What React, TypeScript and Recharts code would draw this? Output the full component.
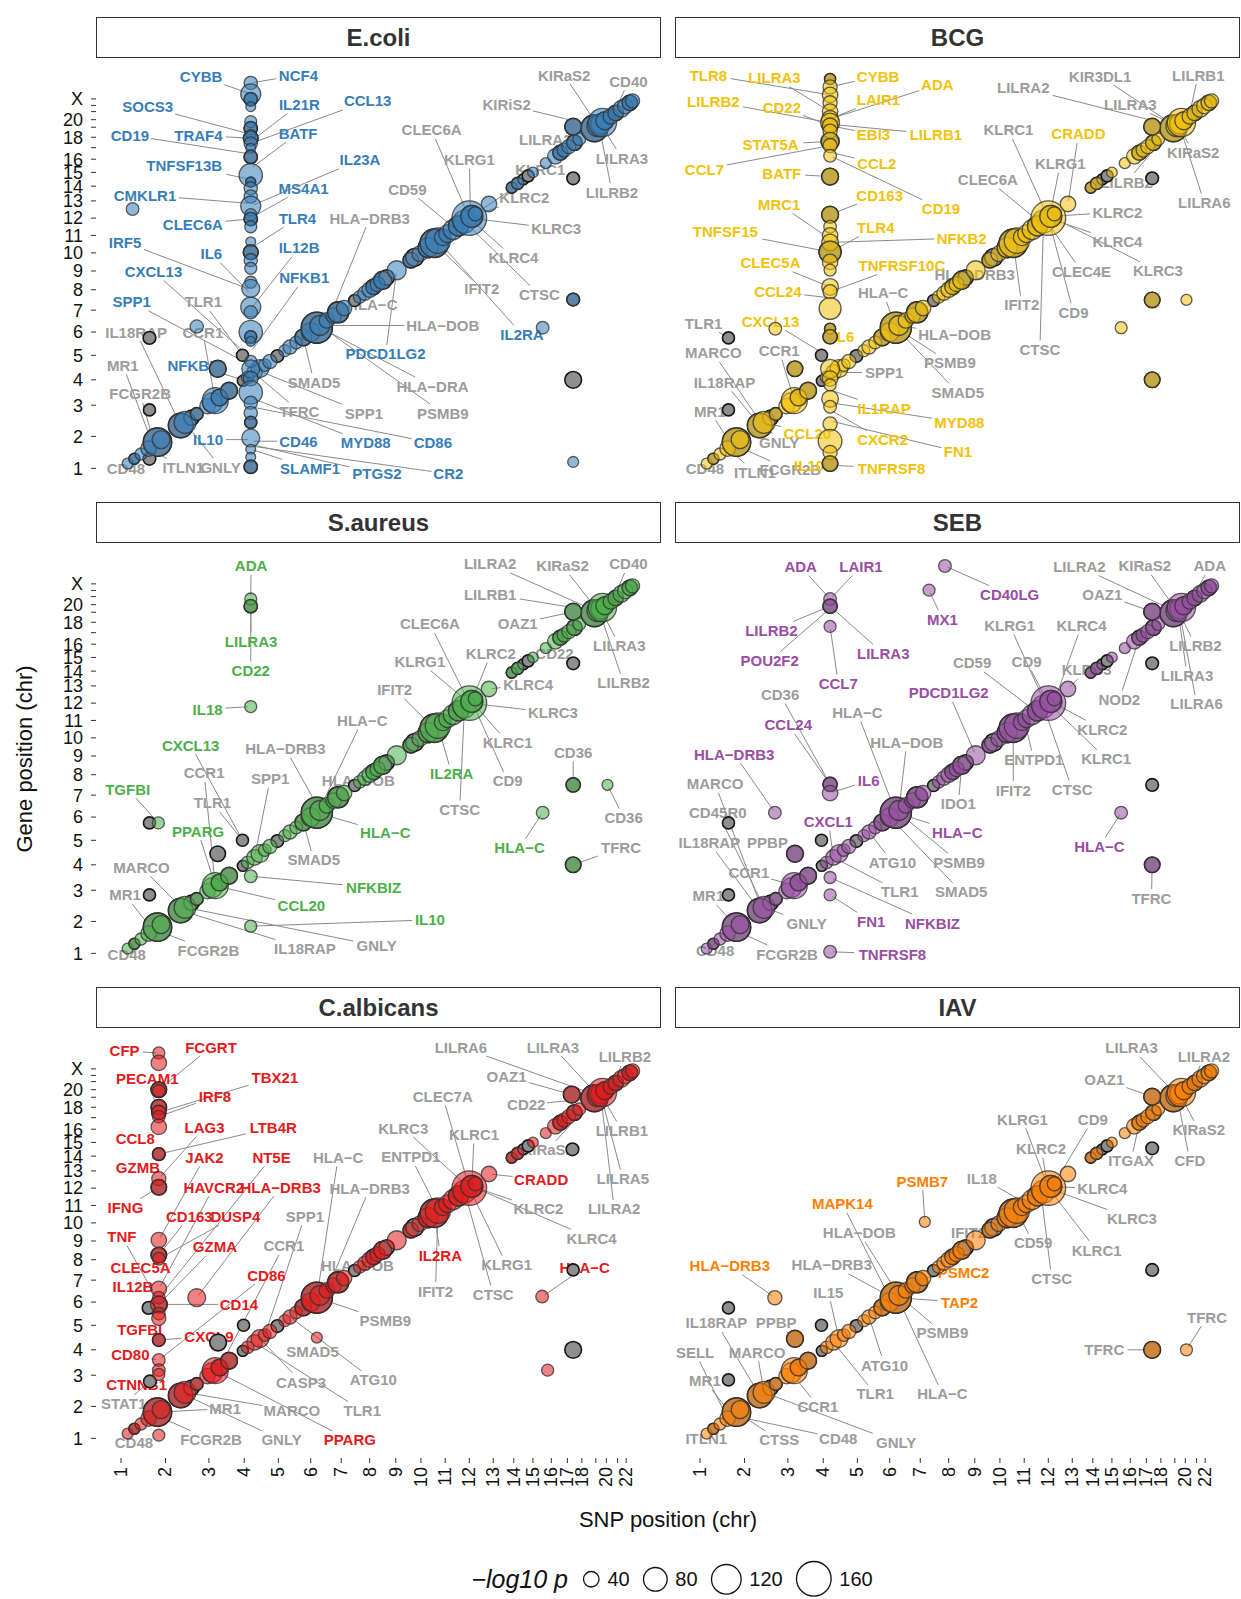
import React from 'react'
import { ScatterChart, Scatter, XAxis, YAxis, CartesianGrid, ReferenceLine } from 'recharts'

// chromosome layout (hg19, Mb)
const CHROMS = ['1', '2', '3', '4', '5', '6', '7', '8', '9', '10', '11', '12', '13', '14', '15', '16', '17', '18', '19', '20', '21', '22', 'X']
const CHROM_LEN = [249, 243, 198, 191, 181, 171, 159, 146, 141, 136, 135, 134, 115, 107, 103, 90, 81, 78, 59, 63, 48, 51, 155]
const HIDDEN_Y_LABELS = ['17', '19', '21', '22']
const HIDDEN_X_LABELS = ['19', '21']
const SIZE_BREAKS = [40, 80, 120, 160]

// shared cis-eQTL diagonal: [chr position, -log10 p, kind] (g = baseline only, c = stimulated only, d = both)
const CIS = [
  [1.15, 25, 'c'], [1.3, 25, 'd'], [1.45, 28, 'c'], [1.62, 40, 'c'], [1.72, 45, 'g'], [1.82, 110, 'd'], [1.9, 50, 'c'],
  [2.35, 85, 'd'], [2.45, 70, 'c'], [2.6, 40, 'g'], [2.72, 30, 'd'], [2.97, 40, 'c'], [3.1, 60, 'c'], [3.18, 95, 'c'],
  [3.3, 45, 'd'], [3.57, 45, 'd'], [3.96, 25, 'g'], [4.1, 30, 'c'], [4.3, 40, 'c'], [4.46, 50, 'c'], [4.6, 30, 'c'],
  [4.75, 35, 'c'], [4.97, 30, 'g'], [5.2, 28, 'c'], [5.36, 35, 'c'], [5.55, 30, 'c'], [5.77, 45, 'd'], [6.0, 55, 'c'],
  [6.2, 130, 'd'], [6.3, 60, 'c'], [6.53, 40, 'c'], [6.75, 40, 'c'], [6.9, 65, 'd'], [7.1, 40, 'c'], [7.47, 28, 'g'],
  [7.65, 30, 'c'], [7.83, 35, 'c'], [8.0, 40, 'c'], [8.15, 40, 'd'], [8.3, 38, 'c'], [8.5, 50, 'd'], [8.65, 40, 'g'],
  [9.04, 55, 'c'], [9.6, 40, 'd'], [9.75, 50, 'g'], [9.95, 40, 'c'], [10.3, 60, 'd'], [10.55, 110, 'd'], [10.7, 90, 'c'],
  [10.9, 45, 'c'], [11.1, 50, 'c'], [11.33, 60, 'c'], [11.55, 60, 'd'], [11.8, 75, 'c'], [12.0, 160, 'c'], [12.1, 70, 'd'],
  [12.25, 35, 'c'], [12.82, 40, 'c'], [13.9, 25, 'd'], [14.2, 28, 'd'], [14.5, 25, 'g'], [14.75, 28, 'g'], [15.0, 24, 'c'],
  [15.7, 25, 'c'], [16.25, 40, 'c'], [16.56, 38, 'd'], [16.8, 35, 'c'], [17.1, 35, 'c'], [17.48, 40, 'd'], [17.82, 30, 'c'],
  [18.9, 100, 'd'], [19.2, 70, 'c'], [19.45, 60, 'c'], [19.63, 110, 'c'], [19.85, 50, 'd'], [20.4, 40, 'c'], [20.83, 40, 'd'],
  [21.44, 45, 'c'], [21.9, 40, 'c'], [22.4, 40, 'd'], [22.7, 35, 'c'],
]

// trans hotspot columns: [gene chr position, -log10 p, kind]
const ECOLI_COL_X = 4.19
const ECOLI_COL = [
  [23.8, 32, 'c'], [23.25, 60, 'c'], [22.95, 32, 'd'], [21.8, 22, 'c'], [19.74, 28, 'c'], [18.9, 32, 'd'], [18.3, 22, 'c'],
  [17.9, 37, 'd'], [17.4, 32, 'c'], [16.95, 22, 'c'], [16.2, 32, 'd'], [14.8, 78, 'c'], [14.3, 22, 'd'], [13.85, 32, 'c'],
  [13.3, 32, 'c'], [12.7, 60, 'c'], [12.2, 28, 'c'], [11.95, 32, 'd'], [11.5, 28, 'c'], [10.64, 22, 'c'], [10.04, 37, 'd'],
  [9.6, 32, 'c'], [9.15, 28, 'c'], [8.4, 28, 'c'], [8.07, 50, 'c'], [7.15, 60, 'c'], [6.9, 32, 'c'], [6.0, 78, 'c'],
  [5.8, 28, 'd'], [5.6, 22, 'c'], [4.75, 28, 'c'], [4.45, 50, 'c'], [4.05, 37, 'c'], [3.5, 78, 'c'], [3.1, 32, 'c'],
  [2.75, 32, 'c'], [2.45, 28, 'd'], [1.95, 50, 'c'], [1.6, 22, 'c'], [1.35, 22, 'c'], [1.05, 32, 'd'],
]
const BCG_COL_X = 4.2
const BCG_COL = [
  [24.0, 25, 'd'], [23.6, 35, 'c'], [23.2, 40, 'c'], [22.4, 35, 'c'], [21.0, 40, 'c'], [20.1, 45, 'c'], [19.6, 55, 'c'],
  [19.2, 40, 'd'], [18.6, 35, 'c'], [17.6, 50, 'd'], [17.2, 35, 'c'], [16.3, 30, 'c'], [14.7, 45, 'd'], [12.2, 45, 'd'],
  [11.5, 30, 'c'], [11.0, 40, 'c'], [10.6, 45, 'c'], [10.05, 70, 'd'], [9.5, 40, 'c'], [9.05, 28, 'c'], [8.15, 45, 'c'],
  [7.9, 35, 'c'], [7.08, 70, 'c'], [6.15, 25, 'd'], [5.8, 35, 'd'], [4.45, 55, 'c'], [4.05, 40, 'c'], [3.8, 28, 'c'],
  [3.25, 45, 'c'], [2.95, 30, 'c'], [2.4, 35, 'c'], [1.85, 80, 'c'], [1.5, 35, 'c'], [1.15, 40, 'd'],
]
const CALB_COL_X = 1.85
const CALB_COL = [
  [23.8, 28, 'c'], [23.3, 40, 'c'], [20.0, 40, 'd'], [19.85, 30, 'c'], [18.0, 40, 'd'], [17.5, 35, 'd'], [17.1, 30, 'c'],
  [16.2, 40, 'c'], [14.15, 30, 'd'], [12.55, 35, 'c'], [12.05, 40, 'd'], [9.05, 40, 'c'], [8.25, 40, 'd'], [8.05, 30, 'c'],
  [6.6, 40, 'c'], [6.2, 30, 'c'], [5.9, 45, 'd'], [5.5, 30, 'c'], [5.3, 35, 'c'], [4.4, 30, 'd'], [3.6, 30, 'c'],
  [3.2, 30, 'c'], [3.03, 28, 'c'], [1.1, 28, 'c'],
]

// other trans points: [snp chr position, gene chr position, -log10 p, kind]
const ECOLI_TRANS = [
  [1.26, 12.53, 30, 'c'], [2.72, 6.25, 32, 'c'], [1.64, 5.75, 30, 'g'], [3.25, 4.45, 45, 'd'], [3.95, 5.0, 28, 'g'],
  [1.64, 2.85, 28, 'g'], [1.64, 1.3, 30, 'g'], [17.4, 19.07, 45, 'd'], [17.4, 14.57, 30, 'g'], [17.4, 7.52, 30, 'd'],
  [15.53, 6.2, 30, 'c'], [17.4, 4.0, 45, 'g'], [17.4, 1.2, 25, 'c'],
]
const BCG_TRANS = [
  [1.64, 5.75, 28, 'g'], [2.71, 6.15, 30, 'c'], [3.95, 5.0, 28, 'g'], [3.2, 4.45, 40, 'd'], [1.64, 2.85, 28, 'g'],
  [17.4, 19.07, 45, 'd'], [17.4, 14.57, 30, 'g'], [17.4, 7.5, 40, 'd'], [20.1, 7.5, 25, 'c'], [15.5, 6.2, 28, 'c'],
  [17.4, 4.0, 40, 'd'],
]
const SAUREUS_TRANS = [
  [4.19, 20.7, 28, 'c'], [4.19, 19.8, 32, 'd'], [4.19, 11.8, 28, 'c'], [1.64, 5.75, 28, 'g'], [1.84, 5.75, 28, 'c'],
  [3.95, 5.0, 28, 'g'], [3.25, 4.45, 40, 'g'], [4.19, 3.55, 30, 'c'], [4.19, 1.85, 28, 'c'], [1.64, 2.85, 28, 'g'],
  [17.4, 19.07, 45, 'd'], [17.4, 14.57, 30, 'g'], [17.4, 7.5, 35, 'd'], [20.1, 7.5, 25, 'c'], [15.53, 6.2, 30, 'c'],
  [17.4, 4.0, 40, 'd'],
]
const SEB_TRANS = [
  [4.2, 20.7, 30, 'c'], [4.2, 19.8, 35, 'd'], [4.2, 17.6, 28, 'c'], [7.87, 23.9, 30, 'c'], [7.31, 22.05, 28, 'c'],
  [2.7, 6.2, 30, 'c'], [4.2, 7.53, 35, 'd'], [4.2, 7.1, 40, 'c'], [1.64, 5.75, 28, 'g'], [3.95, 5.0, 28, 'g'],
  [3.2, 4.45, 45, 'd'], [4.2, 3.5, 28, 'c'], [4.2, 2.85, 28, 'c'], [4.2, 1.05, 30, 'c'], [1.64, 2.85, 28, 'g'],
  [17.4, 19.07, 45, 'd'], [17.4, 14.57, 30, 'g'], [17.4, 7.5, 30, 'g'], [15.5, 6.2, 30, 'c'], [17.4, 4.0, 40, 'd'],
]
const CALB_TRANS = [
  [1.62, 5.75, 30, 'g'], [1.65, 2.8, 30, 'g'], [2.72, 6.2, 50, 'c'], [3.98, 5.0, 28, 'g'], [3.26, 4.3, 45, 'g'],
  [6.2, 4.5, 25, 'c'], [17.3, 19.35, 45, 'd'], [17.35, 14.5, 30, 'g'], [17.4, 7.5, 28, 'g'], [15.5, 6.25, 30, 'c'],
  [17.4, 4.0, 45, 'g'], [15.8, 3.2, 28, 'c'],
]
const IAV_TRANS = [
  [1.64, 5.75, 28, 'g'], [2.7, 6.2, 35, 'c'], [3.95, 5.0, 28, 'g'], [3.2, 4.45, 45, 'd'], [1.64, 2.85, 28, 'g'],
  [7.16, 10.06, 25, 'c'], [17.4, 19.07, 45, 'd'], [17.4, 14.57, 30, 'g'], [17.4, 7.5, 30, 'g'], [17.4, 4.0, 45, 'd'],
  [20.1, 4.0, 28, 'c'],
]

// gene labels: [gene, label x, label y, point x, point y, kind] (c = stimulation colour, g = grey)
const ECOLI_LABELS = [
  ['CYBB', 2.82, 24.12, 4.19, 23.25, 'c'], ['NCF4', 5.62, 24.2, 4.19, 23.8, 'c'], ['SOCS3', 1.6, 21.8, 4.19, 18.3, 'c'],
  ['IL21R', 5.65, 22.15, 4.19, 17.6, 'c'], ['CCL13', 7.93, 22.7, 4.19, 17.4, 'c'], ['CD19', 1.2, 18.2, 4.19, 16.45, 'c'],
  ['TRAF4', 2.76, 18.2, 4.19, 17.9, 'c'], ['BATF', 5.61, 18.4, 4.19, 15.3, 'c'], ['TNFSF13B', 2.43, 15.5, 4.19, 14.5, 'c'],
  ['IL23A', 7.66, 15.95, 4.19, 12.7, 'c'], ['CMKLR1', 1.54, 13.4, 4.19, 12.85, 'c'], ['MS4A1', 5.78, 13.85, 4.19, 12.0, 'c'],
  ['CLEC6A', 2.63, 11.65, 4.19, 11.95, 'c'], ['TLR4', 5.59, 12.0, 4.19, 10.25, 'c'], ['HLA−DRB3', 8.0, 12.0, 6.6, 6.6, 'g'],
  ['IRF5', 1.09, 10.6, 4.19, 8.0, 'c'], ['IL6', 3.07, 9.96, 4.19, 7.8, 'c'], ['IL12B', 5.64, 10.3, 4.19, 7.05, 'c'],
  ['CXCL13', 1.73, 8.97, 4.19, 4.9, 'c'], ['NFKB1', 5.8, 8.63, 4.19, 5.15, 'c'], ['SPP1', 1.24, 7.4, 4.19, 4.6, 'c'],
  ['TLR1', 2.87, 7.4, 3.95, 5.0, 'g'], ['IL18RAP', 1.34, 6.0, 2.35, 2.35, 'g'], ['CCR1', 2.86, 6.0, 3.18, 3.18, 'g'],
  ['MR1', 1.04, 4.6, 1.72, 1.72, 'g'], ['NFKBIZ', 2.68, 4.6, 4.19, 3.9, 'c'], ['FCGR2B', 1.43, 3.45, 1.75, 1.75, 'g'],
  ['SMAD5', 6.11, 3.9, 5.77, 5.77, 'g'], ['TFRC', 5.65, 2.8, 4.19, 4.4, 'g'], ['SPP1', 7.8, 2.75, 4.19, 4.5, 'g'],
  ['IL10', 2.98, 1.9, 4.19, 1.9, 'c'], ['CD46', 5.62, 1.85, 4.19, 1.85, 'c'], ['MYD88', 7.86, 1.8, 4.19, 3.3, 'c'],
  ['CD86', 10.49, 1.8, 4.19, 2.95, 'c'], ['SLAMF1', 5.98, 1.0, 4.19, 1.6, 'c'], ['PTGS2', 8.28, 0.85, 4.19, 1.75, 'c'],
  ['CR2', 11.13, 0.83, 4.19, 1.7, 'c'], ['CD48', 1.11, 1.0, 1.15, 1.15, 'g'], ['ITLN1', 2.41, 1.03, 1.62, 1.62, 'g'],
  ['GNLY', 3.33, 1.03, 2.45, 2.45, 'g'], ['PDCD1LG2', 8.61, 5.06, 9.04, 9.04, 'c'], ['HLA−C', 8.1, 7.3, 6.2, 6.2, 'g'],
  ['HLA−DOB', 10.9, 6.3, 6.3, 6.3, 'g'], ['HLA−DRA', 10.48, 3.75, 6.25, 6.25, 'g'], ['PSMB9', 10.9, 2.75, 6.3, 6.3, 'g'],
  ['CLEC6A', 10.44, 18.73, 12.0, 12.0, 'g'], ['KLRG1', 12.0, 15.95, 12.05, 12.05, 'g'], ['CD59', 9.46, 13.8, 11.4, 11.4, 'g'],
  ['KLRC1', 15.4, 15.2, 12.1, 12.1, 'g'], ['KLRC2', 14.55, 13.2, 12.1, 12.1, 'g'], ['KLRC3', 16.3, 11.4, 12.0, 12.0, 'g'],
  ['KLRC4', 13.98, 9.75, 12.0, 12.0, 'g'], ['IFIT2', 12.52, 8.05, 10.55, 10.55, 'g'], ['CTSC', 15.35, 7.75, 11.8, 11.8, 'g'],
  ['IL2RA', 14.43, 5.9, 10.7, 10.7, 'c'], ['KIRaS2', 16.8, 24.2, 19.2, 19.2, 'g'], ['CD40', 22.25, 23.87, 20.6, 20.6, 'g'],
  ['KIRiS2', 13.65, 22.15, 19.1, 19.1, 'g'], ['LILRA2', 15.67, 17.8, 19.1, 19.1, 'g'], ['LILRA3', 21.5, 16.1, 19.45, 19.45, 'g'],
  ['LILRB2', 20.5, 13.6, 19.3, 19.3, 'g'],
]
const BCG_LABELS = [
  ['TLR8', 1.19, 24.2, 4.2, 23.2, 'c'], ['LILRA3', 2.69, 24.07, 4.2, 21.0, 'c'], ['CYBB', 5.64, 24.15, 4.2, 23.6, 'c'],
  ['ADA', 7.6, 23.7, 4.2, 20.1, 'c'], ['LILRB2', 1.3, 22.6, 4.2, 19.6, 'c'], ['CD22', 2.86, 21.7, 4.2, 19.2, 'c'],
  ['LAIR1', 5.65, 22.9, 4.2, 20.1, 'c'], ['EBI3', 5.5, 18.3, 4.2, 19.2, 'c'], ['LILRB1', 7.55, 18.3, 4.2, 19.4, 'c'],
  ['STAT5A', 2.6, 17.3, 4.2, 17.6, 'c'], ['CCL7', 1.1, 15.25, 4.2, 17.2, 'c'], ['CCL2', 5.6, 15.7, 4.2, 16.6, 'c'],
  ['BATF', 2.86, 14.9, 4.2, 14.7, 'c'], ['CD19', 7.73, 12.55, 4.2, 16.3, 'c'], ['CD163', 5.69, 13.4, 4.2, 12.2, 'c'],
  ['MRC1', 2.8, 12.8, 4.2, 10.8, 'c'], ['TLR4', 5.57, 11.45, 4.2, 10.05, 'c'], ['TNFSF15', 1.57, 11.2, 4.2, 10.05, 'c'],
  ['NFKB2', 8.5, 10.85, 4.2, 10.6, 'c'], ['CLEC5A', 2.6, 9.45, 4.2, 8.15, 'c'], ['TNFRSF10C', 6.4, 9.3, 4.2, 7.9, 'c'],
  ['CCL24', 2.77, 7.9, 4.2, 7.6, 'c'], ['HLA−C', 5.8, 7.85, 6.2, 6.2, 'g'], ['CXCL13', 2.6, 6.5, 4.2, 4.9, 'c'],
  ['IL6', 4.59, 5.8, 4.2, 6.0, 'c'], ['TLR1', 1.08, 6.4, 1.64, 5.75, 'g'], ['HLA−DOB', 8.23, 5.9, 6.3, 6.3, 'g'],
  ['HLA−DRB3', 9.0, 8.8, 6.6, 6.6, 'g'], ['MARCO', 1.3, 5.1, 2.4, 2.4, 'g'], ['CCR1', 2.8, 5.2, 3.18, 3.18, 'g'],
  ['SPP1', 5.83, 4.3, 4.3, 4.3, 'g'], ['PSMB9', 8.05, 4.7, 6.2, 6.2, 'g'], ['IL18RAP', 1.55, 3.9, 2.35, 2.35, 'g'],
  ['SMAD5', 8.35, 3.5, 6.2, 6.2, 'g'], ['MR1', 1.22, 2.8, 1.72, 1.72, 'g'], ['IL1RAP', 5.83, 2.9, 4.2, 3.6, 'c'],
  ['MYD88', 8.41, 2.45, 4.2, 3.1, 'c'], ['CCL20', 3.55, 2.1, 2.45, 2.45, 'c'], ['CXCR2', 5.78, 1.9, 4.2, 2.85, 'c'],
  ['GNLY', 2.8, 1.8, 2.45, 2.45, 'g'], ['FN1', 8.36, 1.52, 4.2, 2.5, 'c'], ['CD48', 1.11, 1.0, 1.15, 1.15, 'g'],
  ['ITLN1', 2.24, 0.88, 1.62, 1.62, 'g'], ['FCGR2B', 3.07, 0.95, 1.75, 1.75, 'g'], ['IL10', 3.6, 1.1, 4.2, 1.15, 'c'],
  ['TNFRSF8', 6.06, 1.0, 4.2, 1.1, 'c'], ['KIR3DL1', 14.38, 24.15, 19.1, 19.1, 'g'], ['LILRB1', 21.2, 24.2, 20.3, 20.3, 'g'],
  ['LILRA2', 10.96, 23.55, 19.1, 19.1, 'g'], ['LILRA3', 16.0, 22.15, 19.2, 19.2, 'g'], ['KLRC1', 10.35, 18.73, 12.0, 12.0, 'g'],
  ['CRADD', 13.3, 18.33, 12.82, 12.82, 'c'], ['KLRG1', 12.5, 15.65, 12.05, 12.05, 'g'], ['CLEC6A', 9.52, 14.5, 11.7, 11.7, 'g'],
  ['KIRaS2', 20.7, 16.6, 19.3, 19.3, 'g'], ['LILRB2', 15.8, 14.3, 18.6, 18.6, 'g'], ['LILRA6', 21.9, 12.9, 19.4, 19.4, 'g'],
  ['KLRC2', 15.3, 12.35, 12.1, 12.1, 'g'], ['KLRC4', 15.3, 10.65, 12.0, 12.0, 'g'], ['KLRC3', 17.8, 9.0, 12.1, 12.1, 'g'],
  ['CLEC4E', 13.45, 8.97, 11.9, 11.9, 'g'], ['IFIT2', 10.9, 7.27, 10.55, 10.55, 'g'], ['CD9', 13.06, 6.9, 12.0, 12.0, 'g'],
  ['CTSC', 11.65, 5.25, 11.8, 11.8, 'g'],
]
const SAUREUS_LABELS = [
  ['ADA', 4.2, 23.9, 4.19, 20.7, 'c'], ['LILRA3', 4.2, 16.25, 4.19, 19.8, 'c'], ['CD22', 4.19, 14.05, 4.19, 19.8, 'c'],
  ['IL18', 2.97, 11.65, 4.19, 11.8, 'c'], ['CXCL13', 2.58, 9.6, 3.95, 5.0, 'c'], ['HLA−DRB3', 5.22, 9.4, 6.3, 6.3, 'g'],
  ['HLA−C', 7.74, 11.0, 6.25, 6.25, 'g'], ['CCR1', 2.89, 8.1, 3.18, 3.18, 'g'], ['SPP1', 4.76, 7.8, 4.3, 4.3, 'g'],
  ['TGFBI', 1.15, 7.3, 1.84, 5.75, 'c'], ['TLR1', 3.1, 6.65, 3.95, 5.0, 'g'], ['PPARG', 2.75, 5.4, 3.18, 3.18, 'c'],
  ['HLA−DOB', 7.6, 7.7, 6.35, 6.35, 'g'], ['HLA−C', 8.6, 5.33, 6.2, 6.2, 'c'], ['SMAD5', 6.1, 4.2, 5.77, 5.77, 'g'],
  ['MARCO', 1.46, 3.9, 2.4, 2.4, 'g'], ['NFKBIZ', 8.15, 3.1, 4.19, 3.55, 'c'], ['MR1', 1.09, 2.85, 1.72, 1.72, 'g'],
  ['CCL20', 5.71, 2.5, 3.18, 3.18, 'c'], ['IL10', 10.37, 2.05, 4.19, 1.85, 'c'], ['GNLY', 8.27, 1.24, 2.45, 2.45, 'g'],
  ['IL18RAP', 5.82, 1.15, 2.35, 2.35, 'g'], ['FCGR2B', 2.99, 1.1, 1.75, 1.75, 'g'], ['CD48', 1.13, 0.95, 1.15, 1.15, 'g'],
  ['LILRA2', 12.87, 24.0, 19.1, 19.1, 'g'], ['KIRaS2', 16.7, 23.9, 19.2, 19.2, 'g'], ['CD40', 22.25, 24.0, 20.6, 20.6, 'g'],
  ['LILRB1', 12.87, 21.4, 19.1, 19.1, 'g'], ['OAZ1', 14.2, 17.85, 17.4, 19.07, 'g'], ['CLEC6A', 10.37, 17.85, 12.0, 12.0, 'g'],
  ['CD22', 16.2, 15.3, 17.48, 17.48, 'g'], ['KLRC2', 12.9, 15.3, 12.1, 12.1, 'g'], ['KLRG1', 9.96, 14.7, 12.0, 12.0, 'g'],
  ['LILRA3', 21.2, 15.9, 19.45, 19.45, 'g'], ['LILRB2', 21.7, 13.2, 19.3, 19.3, 'g'], ['KLRC4', 14.75, 13.1, 12.82, 12.82, 'g'],
  ['IFIT2', 8.96, 12.8, 10.55, 10.55, 'g'], ['KLRC3', 16.1, 11.45, 12.0, 12.0, 'g'], ['KLRC1', 13.7, 9.75, 12.1, 12.1, 'g'],
  ['IL2RA', 11.27, 8.05, 10.7, 10.7, 'c'], ['CD9', 13.7, 7.7, 12.1, 12.1, 'g'], ['CTSC', 11.6, 6.35, 11.8, 11.8, 'g'],
  ['CD36', 17.4, 9.2, 17.4, 7.5, 'g'], ['CD36', 21.7, 5.98, 20.1, 7.5, 'g'], ['HLA−C', 14.3, 4.7, 15.53, 6.2, 'c'],
  ['TFRC', 21.4, 4.7, 17.4, 4.0, 'g'],
]
const SEB_LABELS = [
  ['ADA', 3.36, 23.87, 4.2, 20.7, 'c'], ['LAIR1', 5.11, 23.87, 4.2, 20.7, 'c'], ['CD40LG', 10.4, 21.3, 7.87, 23.9, 'c'],
  ['MX1', 7.78, 18.3, 7.31, 22.05, 'c'], ['LILRB2', 2.62, 17.2, 4.2, 19.8, 'c'], ['POU2F2', 2.58, 14.75, 4.2, 19.5, 'c'],
  ['LILRA3', 5.8, 15.3, 4.2, 19.8, 'c'], ['CCL7', 4.44, 13.15, 4.2, 17.6, 'c'], ['CD36', 2.82, 12.5, 4.2, 7.53, 'g'],
  ['CCL24', 3.01, 10.75, 4.2, 7.53, 'c'], ['HLA−C', 5.0, 11.45, 6.2, 6.2, 'g'], ['PDCD1LG2', 8.0, 12.6, 9.04, 9.04, 'c'],
  ['HLA−DOB', 6.56, 9.75, 6.3, 6.3, 'g'], ['HLA−DRB3', 1.77, 9.1, 2.7, 6.2, 'c'], ['IL6', 5.35, 7.7, 4.2, 7.1, 'c'],
  ['MARCO', 1.34, 7.55, 2.4, 2.4, 'g'], ['IDO1', 8.37, 6.6, 8.5, 8.5, 'g'], ['CD45R0', 1.4, 6.2, 2.45, 2.45, 'g'],
  ['CXCL1', 4.15, 5.8, 4.3, 4.3, 'c'], ['HLA−C', 8.33, 5.35, 6.2, 6.2, 'c'], ['IL18RAP', 1.21, 4.9, 2.35, 2.35, 'g'],
  ['PPBP', 2.53, 4.9, 3.2, 4.45, 'g'], ['ATG10', 6.09, 4.1, 5.36, 5.36, 'g'], ['PSMB9', 8.4, 4.1, 6.25, 6.25, 'g'],
  ['CCR1', 2.1, 3.7, 3.18, 3.18, 'g'], ['TLR1', 6.33, 2.95, 4.3, 4.3, 'g'], ['SMAD5', 8.48, 2.95, 6.0, 6.0, 'g'],
  ['MR1', 1.19, 2.82, 1.82, 1.82, 'g'], ['GNLY', 3.53, 1.95, 2.45, 2.45, 'g'], ['FN1', 5.43, 2.0, 4.2, 2.85, 'c'],
  ['NFKBIZ', 7.43, 1.95, 4.2, 3.5, 'c'], ['CD48', 1.34, 1.1, 1.15, 1.15, 'g'], ['FCGR2B', 2.98, 0.98, 1.75, 1.75, 'g'],
  ['TNFRSF8', 6.09, 0.98, 4.2, 1.05, 'c'], ['LILRA2', 13.35, 23.87, 19.1, 19.1, 'g'], ['KIRaS2', 16.9, 23.9, 19.2, 19.2, 'g'],
  ['ADA', 22.5, 23.9, 20.6, 20.6, 'g'], ['OAZ1', 14.5, 21.4, 17.4, 19.07, 'g'], ['KLRG1', 10.4, 17.7, 11.9, 11.9, 'g'],
  ['KLRC4', 13.45, 17.7, 12.3, 12.3, 'g'], ['CD9', 11.1, 14.7, 12.0, 12.0, 'g'], ['CD59', 8.9, 14.6, 11.5, 11.5, 'g'],
  ['KLRC3', 13.7, 14.1, 12.82, 12.82, 'g'], ['NOD2', 15.4, 12.2, 16.56, 16.56, 'g'], ['LILRB2', 20.9, 15.9, 19.3, 19.3, 'g'],
  ['LILRA3', 20.15, 13.7, 19.3, 19.3, 'g'], ['LILRA6', 21.0, 11.95, 19.4, 19.4, 'g'], ['KLRC2', 14.5, 10.5, 12.1, 12.1, 'g'],
  ['ENTPD1', 11.4, 8.8, 11.0, 11.0, 'g'], ['KLRC1', 14.7, 8.85, 12.0, 12.0, 'g'], ['IFIT2', 10.55, 7.25, 10.55, 10.55, 'g'],
  ['CTSC', 13.0, 7.28, 11.8, 11.8, 'g'], ['HLA−C', 14.35, 4.75, 15.5, 6.2, 'c'], ['TFRC', 17.35, 2.75, 17.4, 4.0, 'g'],
]
const CALB_LABELS = [
  ['CFP', 1.08, 23.9, 1.85, 23.8, 'c'], ['FCGRT', 3.06, 24.1, 1.85, 20.0, 'c'], ['PECAM1', 1.59, 21.45, 1.85, 17.5, 'c'],
  ['TBX21', 4.9, 21.7, 1.85, 17.5, 'c'], ['IRF8', 3.17, 19.1, 1.85, 17.1, 'c'], ['CCL8', 1.32, 15.3, 1.85, 16.2, 'c'],
  ['LAG3', 2.9, 16.15, 1.85, 12.55, 'c'], ['LTB4R', 4.85, 16.15, 1.85, 14.15, 'c'], ['GZMB', 1.38, 13.2, 1.85, 14.15, 'c'],
  ['JAK2', 2.9, 13.93, 1.85, 9.05, 'c'], ['NT5E', 4.8, 13.93, 1.85, 6.2, 'c'], ['IFNG', 1.1, 10.87, 1.85, 12.05, 'c'],
  ['HAVCR2', 3.14, 12.06, 1.85, 6.6, 'c'], ['HLA−DRB3', 5.07, 12.06, 2.72, 6.2, 'c'], ['CD163', 2.55, 10.38, 1.85, 8.25, 'c'],
  ['DUSP4', 3.75, 10.38, 1.85, 8.05, 'c'], ['SPP1', 5.82, 10.38, 4.6, 4.6, 'g'], ['TNF', 1.02, 9.25, 1.85, 6.0, 'c'],
  ['GZMA', 3.17, 8.7, 1.85, 5.9, 'c'], ['CCR1', 5.17, 8.75, 3.3, 3.3, 'g'], ['CLEC5A', 1.44, 7.63, 1.85, 8.05, 'c'],
  ['HLA−DOB', 7.57, 7.7, 6.3, 6.3, 'g'], ['CD86', 4.65, 7.25, 1.85, 3.6, 'c'], ['IL12B', 1.27, 6.73, 1.85, 6.2, 'c'],
  ['CD14', 3.85, 5.9, 1.85, 5.9, 'c'], ['PSMB9', 8.6, 5.2, 6.2, 6.2, 'g'], ['TGFBI', 1.42, 4.82, 1.85, 5.3, 'c'],
  ['CXCL9', 3.0, 4.56, 1.85, 4.4, 'c'], ['SMAD5', 6.06, 3.95, 6.2, 4.5, 'g'], ['CD80', 1.21, 3.8, 1.85, 3.6, 'c'],
  ['CTNNB1', 1.35, 2.7, 1.85, 3.03, 'c'], ['CASP3', 5.7, 2.78, 4.46, 4.46, 'g'], ['ATG10', 8.14, 2.85, 5.36, 5.36, 'g'],
  ['STAT1', 1.06, 2.08, 1.65, 2.8, 'g'], ['MR1', 3.46, 1.93, 1.82, 1.82, 'g'], ['MARCO', 5.42, 1.87, 2.45, 2.45, 'g'],
  ['TLR1', 7.74, 1.87, 4.3, 4.3, 'g'], ['CD48', 1.29, 0.87, 1.15, 1.15, 'g'], ['FCGR2B', 3.06, 0.95, 1.75, 1.75, 'g'],
  ['GNLY', 5.1, 0.95, 2.4, 2.4, 'g'], ['PPARG', 7.3, 0.95, 3.18, 3.18, 'c'], ['HLA−C', 6.9, 13.93, 6.2, 6.2, 'g'],
  ['HLA−DRB3', 8.0, 12.0, 6.53, 6.53, 'g'], ['LILRA6', 11.65, 24.1, 19.2, 19.2, 'g'], ['LILRA3', 16.1, 24.1, 19.2, 19.2, 'g'],
  ['LILRB2', 21.85, 23.6, 20.6, 20.6, 'g'], ['OAZ1', 13.65, 21.85, 17.3, 19.35, 'g'], ['CD22', 14.65, 18.25, 18.9, 18.9, 'g'],
  ['CLEC7A', 10.9, 19.1, 12.0, 12.0, 'g'], ['LILRB1', 21.5, 15.9, 19.45, 19.45, 'g'], ['KLRC3', 9.3, 16.1, 12.0, 12.0, 'g'],
  ['KLRC1', 12.2, 15.6, 12.1, 12.1, 'g'], ['KIRaS2', 15.8, 14.45, 18.9, 18.9, 'g'], ['ENTPD1', 9.6, 13.95, 10.7, 10.7, 'g'],
  ['CRADD', 15.45, 12.5, 12.82, 12.82, 'c'], ['LILRA5', 21.6, 12.55, 19.45, 19.45, 'g'], ['KLRC2', 15.3, 10.8, 12.1, 12.1, 'g'],
  ['LILRA2', 20.7, 10.8, 19.45, 19.45, 'g'], ['KLRC4', 18.7, 9.15, 12.1, 12.1, 'g'], ['IL2RA', 10.8, 8.25, 10.55, 10.55, 'c'],
  ['KLRG1', 13.65, 7.75, 12.0, 12.0, 'g'], ['HLA−C', 18.2, 7.62, 15.5, 6.25, 'c'], ['IFIT2', 10.6, 6.5, 10.7, 10.7, 'g'],
  ['CTSC', 13.0, 6.35, 11.8, 11.8, 'g'],
]
const IAV_LABELS = [
  ['PSMB7', 7.07, 12.4, 7.16, 10.06, 'c'], ['IL18', 9.28, 12.58, 11.1, 11.1, 'g'], ['MAPK14', 4.56, 11.1, 6.05, 6.05, 'c'],
  ['HLA−DOB', 5.06, 9.45, 6.3, 6.3, 'g'], ['IFIT2', 8.76, 9.45, 9.6, 9.6, 'g'], ['HLA−DRB3', 1.67, 7.7, 2.7, 6.2, 'c'],
  ['HLA−DRB3', 4.25, 7.75, 6.15, 6.15, 'g'], ['PSMC2', 8.57, 7.35, 7.1, 7.1, 'c'], ['TAP2', 8.42, 6.0, 6.2, 6.2, 'c'],
  ['IL15', 4.15, 6.45, 4.46, 4.46, 'g'], ['IL18RAP', 1.37, 5.1, 2.35, 2.35, 'g'], ['PPBP', 2.73, 5.1, 3.2, 4.45, 'g'],
  ['PSMB9', 7.78, 4.7, 6.3, 6.3, 'g'], ['SELL', 0.89, 3.9, 1.62, 1.62, 'g'], ['MARCO', 2.29, 3.9, 2.45, 2.45, 'g'],
  ['ATG10', 5.84, 3.4, 5.36, 5.36, 'g'], ['MR1', 1.11, 2.82, 1.72, 1.72, 'g'], ['TLR1', 5.55, 2.4, 4.3, 4.3, 'g'],
  ['HLA−C', 7.78, 2.4, 6.25, 6.25, 'g'], ['CCR1', 3.85, 2.0, 3.1, 3.1, 'g'], ['ITLN1', 1.14, 1.0, 1.15, 1.15, 'g'],
  ['CTSS', 2.8, 0.95, 1.82, 1.82, 'g'], ['CD48', 4.44, 1.0, 1.72, 1.72, 'g'], ['GNLY', 6.21, 0.88, 2.45, 2.45, 'g'],
  ['LILRA3', 16.08, 24.06, 19.2, 19.2, 'g'], ['LILRA2', 21.85, 23.6, 20.6, 20.6, 'g'], ['OAZ1', 14.6, 21.3, 17.4, 19.07, 'g'],
  ['KLRG1', 10.93, 16.85, 12.0, 12.0, 'g'], ['CD9', 14.0, 16.85, 12.25, 12.25, 'g'], ['KLRC2', 11.7, 14.55, 12.0, 12.0, 'g'],
  ['KIRaS2', 21.25, 15.95, 19.45, 19.45, 'g'], ['ITGAX', 16.05, 13.7, 16.56, 16.56, 'g'], ['CFD', 20.4, 13.7, 19.2, 19.2, 'g'],
  ['KLRC4', 14.5, 11.95, 12.1, 12.1, 'g'], ['KLRC3', 16.1, 10.25, 12.0, 12.0, 'g'], ['CD59', 11.37, 8.9, 10.7, 10.7, 'g'],
  ['KLRC1', 14.2, 8.5, 12.0, 12.0, 'g'], ['CTSC', 12.14, 7.08, 11.7, 11.7, 'g'], ['TFRC', 14.6, 4.0, 17.4, 4.0, 'g'],
  ['TFRC', 22.2, 5.35, 20.1, 4.0, 'g'],
]

const FONT = '"Liberation Sans", Arial, Helvetica, sans-serif'
const GREY_TEXT = '#9c9c9c'
const PLOT_W = 565
const PLOT_H = 428
const X_DOMAIN = [-140, 3023]
const Y_DOMAIN = [-153, 3182]
const KX = PLOT_W / (X_DOMAIN[1] - X_DOMAIN[0])
const KY = PLOT_H / (Y_DOMAIN[1] - Y_DOMAIN[0])

const CHROM_START: number[] = []
CHROM_LEN.reduce((acc, len, i) => { CHROM_START[i] = acc; return acc + len }, 0)
const X_TICKS = CHROM_START.slice(0, 22)
const Y_TICKS = CHROM_START.slice()

// chromosome coordinate (e.g. 4.19 = 19% along chr4) -> genome position in Mb
function toGenome(c: number) {
  if (c < 1) return (c - 1) * CHROM_LEN[0]
  const k = Math.min(Math.floor(c), 23)
  return CHROM_START[k - 1] + (c - k) * CHROM_LEN[k - 1]
}

const radius = (p: number) => Math.sqrt(Math.max(16, 2 * p - 20))

function textWidth(s: string, fs: number) {
  let w = 0
  for (const ch of s) {
    if (ch === 'I' || ch === 'i' || ch === 'l') w += 0.28
    else if (ch === 'M') w += 0.83
    else if (/[0-9]/.test(ch)) w += 0.556
    else if (/[A-Z]/.test(ch)) w += 0.71
    else w += 0.58
  }
  return w * fs
}

type Pt = { x: number; y: number; p: number; k: string }
type Lbl = { name: string; x: number; y: number; tx: number; ty: number; k: string }

function buildPoints(colX: number | null, col: any[], trans: any[]): Pt[] {
  const pts: Pt[] = CIS.map(([pos, p, k]: any) => ({ x: toGenome(pos), y: toGenome(pos), p, k }))
  if (colX !== null) col.forEach(([y, p, k]: any) => pts.push({ x: toGenome(colX), y: toGenome(y), p, k }))
  trans.forEach(([x, y, p, k]: any) => pts.push({ x: toGenome(x), y: toGenome(y), p, k }))
  return pts
}

function buildLabels(rows: any[]): Lbl[] {
  return rows.map(([name, lx, ly, tx, ty, k]) => ({
    name, x: toGenome(lx), y: toGenome(ly), tx: toGenome(tx), ty: toGenome(ty), k,
  }))
}

// trim a leader segment so that it starts at the edge of the label box
function segmentOf(l: Lbl) {
  const dx = (l.tx - l.x) * KX
  const dy = (l.ty - l.y) * KY
  const len = Math.hypot(dx, dy)
  const hw = textWidth(l.name, 15) / 2 + 2
  const hh = 9
  const t0 = Math.min(dx === 0 ? Infinity : hw / Math.abs(dx), dy === 0 ? Infinity : hh / Math.abs(dy))
  if (t0 >= 1 || len * (1 - t0) < 6) return null
  const t1 = 1 - Math.min(0.2, 3 / len)
  return [
    { x: l.x + (l.tx - l.x) * t0, y: l.y + (l.ty - l.y) * t0 },
    { x: l.x + (l.tx - l.x) * t1, y: l.y + (l.ty - l.y) * t1 },
  ]
}

const PANELS = [
  { name: 'E.coli', color: '#377eb8', points: buildPoints(ECOLI_COL_X, ECOLI_COL, ECOLI_TRANS), labels: buildLabels(ECOLI_LABELS) },
  { name: 'BCG', color: '#f2c20a', points: buildPoints(BCG_COL_X, BCG_COL, BCG_TRANS), labels: buildLabels(BCG_LABELS) },
  { name: 'S.aureus', color: '#4daf4a', points: buildPoints(null, [], SAUREUS_TRANS), labels: buildLabels(SAUREUS_LABELS) },
  { name: 'SEB', color: '#984ea3', points: buildPoints(null, [], SEB_TRANS), labels: buildLabels(SEB_LABELS) },
  { name: 'C.albicans', color: '#e41a1c', points: buildPoints(CALB_COL_X, CALB_COL, CALB_TRANS), labels: buildLabels(CALB_LABELS) },
  { name: 'IAV', color: '#ff7f00', points: buildPoints(null, [], IAV_TRANS), labels: buildLabels(IAV_LABELS) },
]

const greyShape = (props: any) => (
  <circle cx={props.cx} cy={props.cy} r={radius(props.payload.p)} fill="#8e8e8e" stroke="#151515" strokeWidth={1.6} />
)

const colourShape = (color: string) => (props: any) => (
  <circle cx={props.cx} cy={props.cy} r={radius(props.payload.p)} fill={color} fillOpacity={0.55}
    stroke="#333" strokeOpacity={0.8} strokeWidth={1.3} />
)

const labelShape = (color: string) => (props: any) => (
  <text x={props.cx} y={props.cy} textAnchor="middle" dominantBaseline="central" fontFamily={FONT}
    fontSize={15} fontWeight="bold" fill={props.payload.k === 'c' ? color : GREY_TEXT}>
    {props.payload.name}
  </text>
)

function XTick({ x, y, payload }: any) {
  const lab = CHROMS[X_TICKS.indexOf(payload.value)]
  if (!lab || HIDDEN_X_LABELS.includes(lab)) return null
  return (
    <text x={x} y={y} transform={`rotate(-90 ${x} ${y})`} textAnchor="end" dominantBaseline="central"
      fontFamily={FONT} fontSize={18} fill="#111">{lab}</text>
  )
}

const yTickFormat = (v: number) => {
  const lab = CHROMS[Y_TICKS.indexOf(v)]
  return !lab || HIDDEN_Y_LABELS.includes(lab) ? '' : lab
}

// grid lines only at the chromosome starts, placed through the axis scales
const vGrid = (props: any) => {
  const s = props?.xAxis?.scale
  return typeof s === 'function' ? X_TICKS.map((t) => s(t)) : []
}
const hGrid = (props: any) => {
  const s = props?.yAxis?.scale
  return typeof s === 'function' ? Y_TICKS.map((t) => s(t)) : []
}

function Panel({ panel, row, col }: { panel: typeof PANELS[number]; row: number; col: number }) {
  const showY = col === 0
  const showX = row === 2
  const yW = showY ? 96 : 0
  const xH = showX ? 40 : 0
  const left = col === 0 ? 0 : 675
  const top = 60 + row * 485
  const grey = panel.points.filter((d) => d.k !== 'c')
  const coloured = panel.points.filter((d) => d.k !== 'g')
  return (
    <>
      <div style={{
        position: 'absolute', left: 96 + col * 579, top: 17 + row * 485, width: PLOT_W, height: 41,
        boxSizing: 'border-box', border: '1.6px solid #333', background: '#fff', display: 'flex',
        alignItems: 'center', justifyContent: 'center', fontFamily: FONT, fontWeight: 'bold', fontSize: 24, color: '#333',
      }}>{panel.name}</div>
      <div style={{ position: 'absolute', left, top }}>
        <ScatterChart width={yW + PLOT_W} height={PLOT_H + xH} margin={{ top: 0, right: 0, bottom: 0, left: 0 }}>
          <CartesianGrid stroke="#d9d9d9" strokeWidth={1.5} syncWithTicks
            verticalCoordinatesGenerator={vGrid} horizontalCoordinatesGenerator={hGrid} />
          <XAxis type="number" dataKey="x" domain={X_DOMAIN} allowDataOverflow ticks={X_TICKS} interval={0}
            height={xH} tick={showX ? <XTick /> : false} tickLine={showX ? { stroke: '#333' } : false}
            axisLine={false} tickSize={5} tickMargin={4} />
          <YAxis type="number" dataKey="y" domain={Y_DOMAIN} allowDataOverflow ticks={Y_TICKS} interval={0}
            width={yW} tick={showY ? { fontSize: 18, fill: '#111', fontFamily: FONT } : false}
            tickFormatter={yTickFormat} tickLine={showY ? { stroke: '#333' } : false} axisLine={false}
            tickSize={5} tickMargin={8} />
          {panel.labels.map((l, i) => {
            const seg = segmentOf(l)
            return seg ? (
              <ReferenceLine key={i} segment={seg} stroke="#8a8a8a" strokeWidth={1} ifOverflow="visible" />
            ) : null
          })}
          <Scatter data={panel.labels} shape={labelShape(panel.color)} isAnimationActive={false} />
          <Scatter data={grey} shape={greyShape} isAnimationActive={false} />
          <Scatter data={coloured} shape={colourShape(panel.color)} isAnimationActive={false} />
        </ScatterChart>
      </div>
    </>
  )
}

export default function App() {
  return (
    <div style={{ position: 'absolute', left: 0, top: 0, width: 1241, height: 1599, background: '#fff', fontFamily: FONT }}>
      {PANELS.map((p, i) => (
        <Panel key={p.name} panel={p} row={Math.floor(i / 2)} col={i % 2} />
      ))}
      <div style={{
        position: 'absolute', left: 25, top: 759, transform: 'translate(-50%, -50%) rotate(-90deg)',
        fontSize: 22, color: '#111', whiteSpace: 'nowrap',
      }}>Gene position (chr)</div>
      <div style={{
        position: 'absolute', left: 96, width: 1144, top: 1507, textAlign: 'center', fontSize: 22, color: '#111',
      }}>SNP position (chr)</div>
      <div style={{
        position: 'absolute', left: 106, width: 1144, top: 1560, height: 38, display: 'flex',
        alignItems: 'center', justifyContent: 'center', fontSize: 20, color: '#111',
      }}>
        <span style={{ fontStyle: 'italic', fontSize: 25, marginRight: 14 }}>−log10 p</span>
        {SIZE_BREAKS.map((s) => {
          const r = radius(s)
          return (
            <React.Fragment key={s}>
              <svg width={2 * r + 3} height={2 * r + 3}>
                <circle cx={r + 1.5} cy={r + 1.5} r={r} fill="none" stroke="#111" strokeWidth={1.3} />
              </svg>
              <span style={{ marginLeft: 7, marginRight: 12 }}>{s}</span>
            </React.Fragment>
          )
        })}
      </div>
    </div>
  )
}
